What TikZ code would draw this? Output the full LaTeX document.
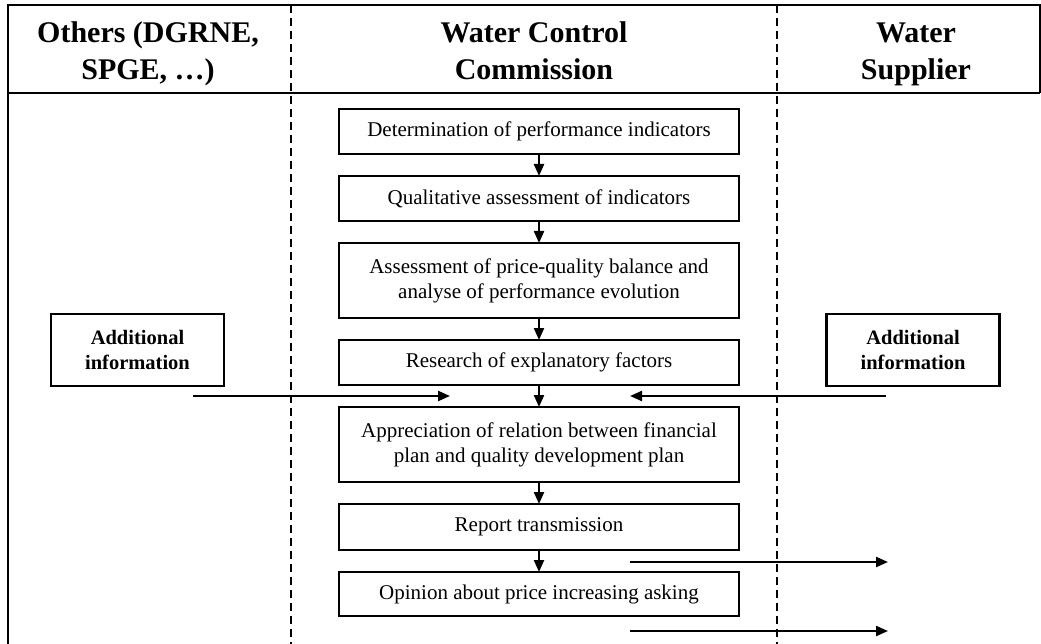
\documentclass[tikz,border=0pt]{standalone}
\usepackage{fontspec}
\setmainfont{Liberation Serif}
\usepackage{tikz}
\usetikzlibrary{positioning,arrows.meta}

\tikzset{
  stepbox/.style={draw, line width=2pt, minimum width=400pt, minimum height=45pt,
    inner sep=0pt, outer sep=0pt, align=center, font=\fontsize{21}{25}\selectfont},
  infobox/.style={draw, line width=2.2pt, minimum width=173pt, minimum height=72pt,
    inner sep=0pt, outer sep=0pt, align=center, font=\bfseries\fontsize{20.5}{25}\selectfont},
  headtext/.style={align=center, inner sep=0pt, font=\bfseries\fontsize{30}{37}\selectfont},
  flow/.style={line width=2.2pt, -{Triangle[length=12pt,width=10pt]}},
  lane/.style={line width=1.7pt, dash pattern=on 8pt off 5pt},
  frame/.style={line width=2.3pt}
}

\begin{document}
\begin{tikzpicture}[x=1pt, y=-1pt, node distance=22pt]

      \useasboundingbox (0,0) rectangle (1041,644);

      % frame and lanes
      \draw[frame] (8,644) -- (8,5) -- (1040,5) -- (1040,93);
      \draw[frame, line width=2.8pt] (8,93) -- (1040,93);
      \draw[lane] (291,5) -- (291,644);
      \draw[lane] (777,5) -- (777,644);

      \node[headtext] (others) at (148,53.5) {Others (DGRNE,\\SPGE, …)};
      \node[headtext] (commission) at (534,51) {Water Control\\Commission};
      \node[headtext] (supplier) at (916,54) {Water\\Supplier};

      % steps of the commission
      \node[stepbox] (indicators) at (539,131.5) {Determination of performance indicators};
      \node[stepbox, below=of indicators] (qualitative) {Qualitative assessment of indicators};
      \node[stepbox, below=of qualitative, minimum height=75pt] (balance)
        {Assessment of price-quality balance and\\analyse of performance evolution};
      \node[stepbox, below=of balance] (factors) {Research of explanatory factors};
      \node[stepbox, below=of factors, minimum height=75pt] (relation)
        {Appreciation of relation between financial\\plan and quality development plan};
      \node[stepbox, below=of relation, minimum height=46pt] (report) {Report transmission};
      \node[stepbox, below=of report, minimum height=44pt] (opinion) {Opinion about price increasing asking};

      \node[infobox] (infoleft) at (137.5,350) {Additional\\information};
      \node[infobox] (inforight) at (913,350) {Additional\\information};

      \coordinate (leftfrom) at (193,396);
      \coordinate (leftto) at (450,396);
      \coordinate (rightfrom) at (886,396);
      \coordinate (rightto) at (630,396);
      \coordinate (reportfrom) at (630,562);
      \coordinate (reportto) at (888,562);
      \coordinate (opinionfrom) at (630,631);
      \coordinate (opinionto) at (888,631);

      \draw[flow] (indicators) -- (qualitative);
      \draw[flow] (qualitative) -- (balance);
      \draw[flow] (balance) -- (factors);
      \draw[flow] (factors) -- (relation);
      \draw[flow] (relation) -- (report);
      \draw[flow] (report) -- (opinion);
      \draw[flow] (leftfrom) -- (leftto);
      \draw[flow] (rightfrom) -- (rightto);
      \draw[flow] (reportfrom) -- (reportto);
      \draw[flow] (opinionfrom) -- (opinionto);

\end{tikzpicture}
\end{document}
